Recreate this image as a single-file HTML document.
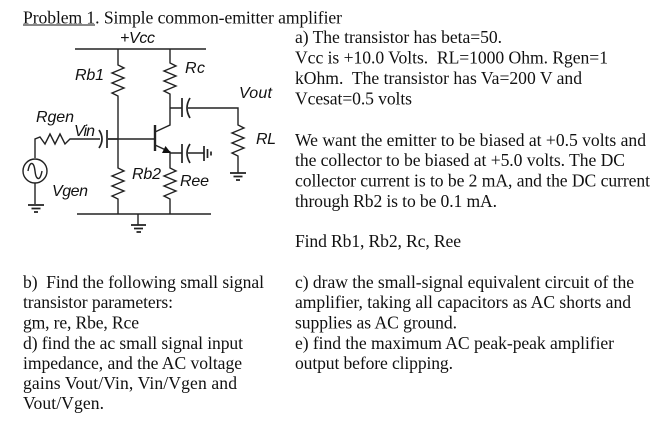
<!DOCTYPE html>
<html><head><meta charset="utf-8">
<style>
html,body{margin:0;padding:0;background:#fff;width:665px;height:429px;overflow:hidden}
svg{display:block}
text{white-space:pre}
.t{font-family:"Liberation Serif",serif;font-size:17.6px;fill:#111}
.l{font-family:"Liberation Sans",sans-serif;font-style:italic;font-size:16px;fill:#111}
.w{fill:none;stroke:#222;stroke-width:1.4}
.p{fill:none;stroke:#222;stroke-width:1.7}
</style></head><body>
<svg width="665" height="429" viewBox="0 0 665 429" xmlns="http://www.w3.org/2000/svg">
<text class="t" x="23" y="23.5" textLength="319">Problem 1. Simple common-emitter amplifier</text>
<line x1="23" y1="25" x2="95" y2="25" stroke="#111" stroke-width="1"/>

<text class="t" x="295" y="43" textLength="207">a) The transistor has beta=50.</text>
<text class="t" x="295" y="63.5" textLength="313">Vcc is +10.0 Volts.  RL=1000 Ohm. Rgen=1</text>
<text class="t" x="295" y="84" textLength="287">kOhm.  The transistor has Va=200 V and</text>
<text class="t" x="295" y="104.5" textLength="117">Vcesat=0.5 volts</text>
<text class="t" x="295" y="146" textLength="351">We want the emitter to be biased at +0.5 volts and</text>
<text class="t" x="295" y="166" textLength="330">the collector to be biased at +5.0 volts. The DC</text>
<text class="t" x="295" y="186.5" textLength="355">collector current is to be 2 mA, and the DC current</text>
<text class="t" x="295" y="207" textLength="202">through Rb2 is to be 0.1 mA.</text>
<text class="t" x="295" y="247" textLength="166">Find Rb1, Rb2, Rc, Ree</text>

<text class="t" x="23" y="288" textLength="241">b)  Find the following small signal</text>
<text class="t" x="23" y="308" textLength="150">transistor parameters:</text>
<text class="t" x="23" y="328.5" textLength="116">gm, re, Rbe, Rce</text>
<text class="t" x="23" y="349" textLength="220">d) find the ac small signal input</text>
<text class="t" x="23" y="369" textLength="219">impedance, and the AC voltage</text>
<text class="t" x="23" y="389" textLength="214">gains Vout/Vin, Vin/Vgen and</text>
<text class="t" x="23" y="409" textLength="81">Vout/Vgen.</text>

<text class="t" x="295" y="288" textLength="339">c) draw the small-signal equivalent circuit of the</text>
<text class="t" x="295" y="308" textLength="336">amplifier, taking all capacitors as AC shorts and</text>
<text class="t" x="295" y="328.5" textLength="162">supplies as AC ground.</text>
<text class="t" x="295" y="349" textLength="319">e) find the maximum AC peak-peak amplifier</text>
<text class="t" x="295" y="369" textLength="158">output before clipping.</text>

<!-- rails -->
<path class="w" d="M75 49H206M77 214H211"/>
<!-- Rb1 -->
<path class="w" d="M118 49V65L124 68L112 73L124 78L112 83L124 88L112 93L118 96V168L124 171L112 176L124 181L112 186L124 191L112 196L118 199V214"/>
<!-- Rc / collector -->
<path class="w" d="M170 49V63L176 66L164 71L176 76L164 81L176 86L164 91L170 94V125L155 132"/>
<!-- Output cap and RL -->
<path class="w" d="M170 108H182M188 108H238V125L244 128L232 133L244 138L232 143L244 148L232 153L238 156V173"/>
<line class="p" x1="182" y1="98" x2="182" y2="117"/>
<path class="p" d="M190 98Q184 108 190 118"/>
<!-- RL ground -->
<path class="p" d="M230 173H246M233.5 176.5H242.5M236 180H240"/>
<!-- Base -->
<line x1="155" y1="125" x2="155" y2="151" stroke="#222" stroke-width="2.4"/>
<path class="w" d="M108 139H155"/>
<!-- Emitter -->
<path class="w" d="M155 145L170 152V168L176 171L164 176L176 181L164 186L176 191L164 196L170 199V214"/>
<polygon points="171,153 162,153 165.500,146" fill="#111"/>
<!-- Emitter bypass -->
<path class="w" d="M170 153H182M188 153H204"/>
<line class="p" x1="182" y1="144" x2="182" y2="163"/>
<path class="p" d="M190 144Q184 153 190 163"/>
<path class="p" d="M204 146V161M207.5 149V158M211 151.5V155.500"/>
<!-- Input -->
<path class="w" d="M35 158V139L40 137L45 144L50 134L55 144L60 134L65 144L70 139H100M108 139H118"/>
<path class="p" d="M99 130Q105 139 99 148"/>
<line class="p" x1="107" y1="130" x2="107" y2="148"/>
<!-- Source -->
<circle cx="35" cy="171" r="12" class="w"/>
<path class="w" d="M28 171C30 160 34 162 35 171C36 180 40 182 42 171"/>
<path class="w" d="M35 183V204"/>
<path class="p" d="M28 205H44M31.500 208.500H40.500M34 212H38"/>
<!-- Bottom ground -->
<path class="w" d="M138 214V225"/>
<path class="p" d="M131 225H146M134 228.500H143M136.500 232H141"/>
<!-- Labels -->
<text class="l" x="120" y="43" textLength="35">+Vcc</text>
<text class="l" x="75" y="80" textLength="29">Rb1</text>
<text class="l" x="185" y="73" textLength="20">Rc</text>
<text class="l" x="239" y="98" textLength="33">Vout</text>
<text class="l" x="256" y="144" textLength="20">RL</text>
<text class="l" x="36" y="122" textLength="38">Rgen</text>
<text class="l" x="74" y="136" textLength="21">Vin</text>
<text class="l" x="132" y="179" textLength="29">Rb2</text>
<text class="l" x="180" y="186" textLength="29">Ree</text>
<text class="l" x="52" y="196" textLength="36">Vgen</text>
</svg>
</body></html>
